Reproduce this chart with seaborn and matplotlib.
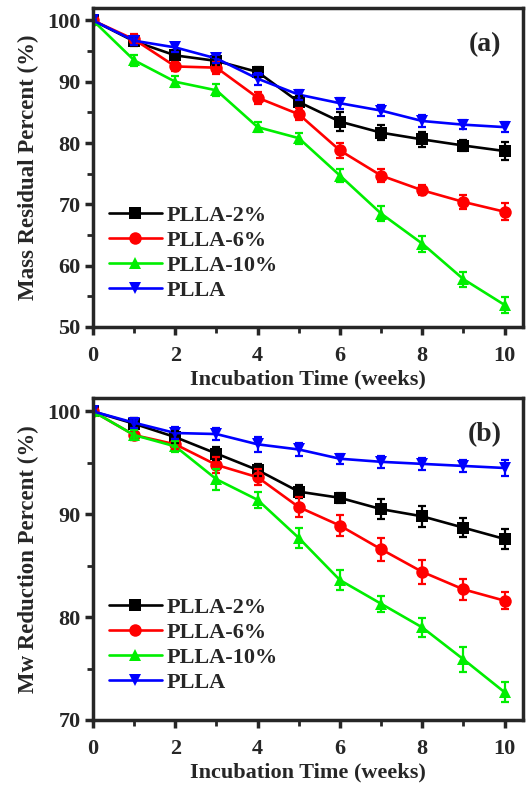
import matplotlib
matplotlib.use("Agg")
import matplotlib.pyplot as plt
import numpy as np
import pandas as pd
import seaborn as sns
from matplotlib.ticker import MultipleLocator

# weeks of incubation
weeks = [0, 1, 2, 3, 4, 5, 6, 7, 8, 9, 10]
series = ["PLLA-2%", "PLLA-6%", "PLLA-10%", "PLLA"]

# (a) mass residual percent
mass_2 = [100, 96.6, 94.3, 93.4, 91.6, 86.7, 83.5, 81.7, 80.6, 79.6, 78.7]
mass_6 = [100, 96.9, 92.5, 92.3, 87.4, 84.7, 78.8, 74.7, 72.3, 70.4, 68.8]
mass_10 = [100, 93.5, 90.0, 88.6, 82.6, 80.8, 74.7, 68.5, 63.6, 57.8, 53.6]
mass_plla = [100, 96.7, 95.6, 93.8, 90.5, 87.9, 86.5, 85.3, 83.6, 83.0, 82.6]
mass_err_2 = [0, 0.8, 0.8, 0.7, 0.8, 1.0, 1.5, 1.2, 1.2, 0.9, 1.4]
mass_err_6 = [0, 0.9, 0.8, 1.0, 1.0, 1.0, 1.2, 1.0, 0.8, 1.1, 1.4]
mass_err_10 = [0, 0.9, 0.9, 1.0, 0.8, 0.9, 1.0, 1.2, 1.3, 1.2, 1.3]
mass_err_plla = [0, 0.7, 0.7, 0.8, 1.0, 0.8, 0.9, 0.9, 0.9, 0.7, 0.8]

# (b) Mw reduction percent
mw_2 = [100, 98.8, 97.5, 95.9, 94.3, 92.2, 91.6, 90.5, 89.8, 88.7, 87.6]
mw_6 = [100, 97.7, 96.8, 94.8, 93.6, 90.7, 88.9, 86.6, 84.4, 82.7, 81.6]
mw_10 = [100, 97.7, 96.6, 93.4, 91.4, 87.7, 83.6, 81.3, 79.0, 75.9, 72.7]
mw_plla = [100, 98.9, 97.9, 97.8, 96.8, 96.3, 95.4, 95.1, 94.9, 94.7, 94.5]
mw_err_2 = [0, 0.6, 0.6, 0.6, 0.6, 0.6, 0.5, 1.0, 1.0, 0.9, 1.0]
mw_err_6 = [0, 0.5, 0.5, 0.8, 0.8, 1.0, 1.0, 1.1, 1.2, 1.0, 0.8]
mw_err_10 = [0, 0.5, 0.5, 1.0, 0.8, 1.0, 1.0, 0.8, 0.9, 1.2, 1.0]
mw_err_plla = [0, 0.5, 0.6, 0.6, 0.7, 0.6, 0.5, 0.6, 0.6, 0.6, 0.8]

colors = ["black", "red", "#00ee00", "blue"]
markers = ["s", "o", "^", "v"]

sns.set_style("ticks")
plt.rcParams["font.family"] = ["Liberation Serif", "DejaVu Serif"]
plt.rcParams["font.weight"] = "bold"
plt.rcParams["axes.labelweight"] = "bold"


def long_frame(values):
    rows = []
    for name, vals in zip(series, values):
        for w, v in zip(weeks, vals):
            rows.append({"week": w, "value": v, "sample": name})
    return pd.DataFrame(rows)


def draw_panel(ax, values, errors, ylim, ylabel, tag):
    df = long_frame(values)
    sns.lineplot(data=df, x="week", y="value", hue="sample", style="sample",
                 hue_order=series, style_order=series,
                 palette=colors, markers=markers, dashes=False,
                 markersize=9, markeredgewidth=0, linewidth=1.9, ax=ax)
    for vals, errs, c in zip(values, errors, colors):
        ax.errorbar(weeks, vals, yerr=errs, fmt="none", ecolor=c,
                    elinewidth=1.6, capsize=3, capthick=1.6)

    ax.set_xlim(0, 10.45)
    ax.set_ylim(*ylim)
    ax.xaxis.set_major_locator(MultipleLocator(2))
    ax.xaxis.set_minor_locator(MultipleLocator(1))
    ax.yaxis.set_major_locator(MultipleLocator(10))
    ax.yaxis.set_minor_locator(MultipleLocator(5))
    ax.tick_params(which="major", length=6, width=2.5, labelsize=16, pad=3)
    ax.tick_params(axis="x", which="major", pad=8)
    ax.tick_params(which="minor", length=4, width=2)
    for sp in ax.spines.values():
        sp.set_linewidth(2.5)

    ax.set_xlabel("Incubation Time (weeks)", fontsize=16, labelpad=2)
    ax.set_ylabel(ylabel, fontsize=16.5, labelpad=6)
    ax.text(0.95, 0.887, tag, transform=ax.transAxes, ha="right", va="center",
            fontsize=20, fontweight="bold")

    ax.legend(loc="upper left", bbox_to_anchor=(0.0, 0.43), frameon=False,
              fontsize=16, handlelength=2.4, labelspacing=0.2,
              handletextpad=0.2, borderaxespad=0.3)


fig = plt.figure(figsize=(5.27, 7.89), dpi=100)
ax1 = fig.add_axes([0.1765, 0.5856, 0.816, 0.404])
ax2 = fig.add_axes([0.1765, 0.0875, 0.816, 0.408])

draw_panel(ax1, [mass_2, mass_6, mass_10, mass_plla],
           [mass_err_2, mass_err_6, mass_err_10, mass_err_plla],
           (50, 102), "Mass Residual Percent (%)", "(a)")
draw_panel(ax2, [mw_2, mw_6, mw_10, mw_plla],
           [mw_err_2, mw_err_6, mw_err_10, mw_err_plla],
           (70, 101.3), "Mw Reduction Percent (%)", "(b)")

fig.savefig("out.png", dpi=100)
